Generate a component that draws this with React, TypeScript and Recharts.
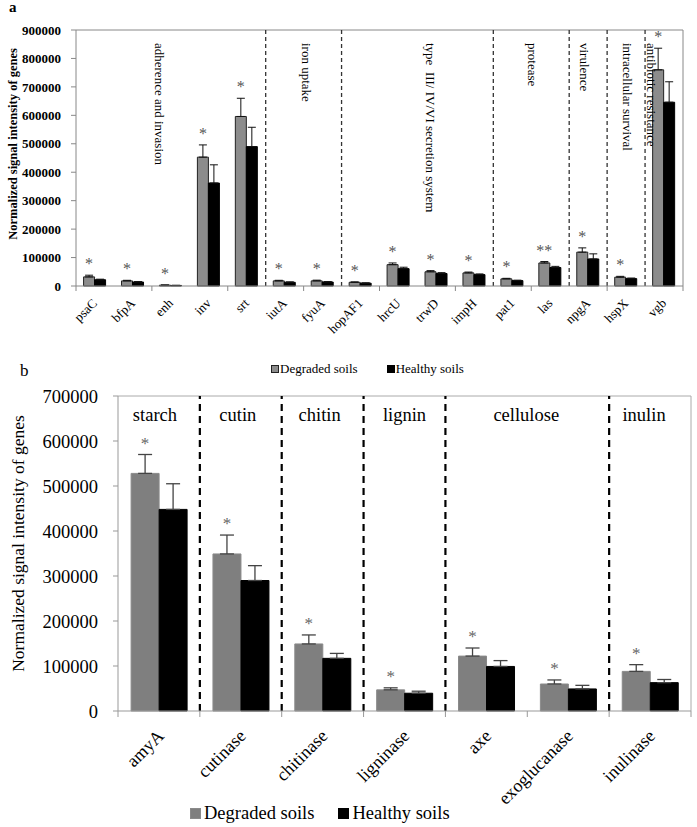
import React from 'react';
import { BarChart, Bar, XAxis, YAxis, ErrorBar, ReferenceLine, LabelList } from 'recharts';

const FONT = '"Liberation Serif", "Times New Roman", Times, serif';

// ---------- Panel a ----------
const genesA = ['psaC', 'bfpA', 'enh', 'inv', 'srt', 'iutA', 'fyuA', 'hopAF1', 'hrcU', 'trwD', 'impH', 'pat1', 'las', 'npgA', 'hspX', 'vgb'];
const degradedA = [32000, 18000, 3000, 453000, 596000, 18000, 18000, 13000, 75000, 50000, 46000, 25000, 81000, 119000, 31000, 760000];
const degradedAErr = [6000, 2000, 500, 43000, 64000, 2000, 2500, 1500, 6000, 4000, 3000, 2000, 5000, 15000, 3000, 76000];
const healthyA = [22000, 14000, 2000, 362000, 490000, 13000, 14000, 10000, 61000, 44000, 40000, 19000, 65000, 95000, 26000, 646000];
const healthyAErr = [2000, 1500, 300, 64000, 68000, 1500, 1500, 1000, 5000, 3000, 2500, 1500, 4000, 18000, 2000, 72000];
const starsA = ['*', '*', '*', '*', '*', '*', '*', '*', '*', '*', '*', '*', '**', '*', '*', '*'];
const yTicksA = [0, 100000, 200000, 300000, 400000, 500000, 600000, 700000, 800000, 900000];
// dashed dividers: placed at the start of these categories
const dividersA = ['iutA', 'hopAF1', 'pat1', 'npgA', 'hspX', 'vgb'];
const groupsA = ['adherence and invasion', 'iron uptake', 'type  III/ IV/VI secretion system', 'protease', 'virulence', 'intracellular survival', 'antibiotic resistance'];
// anchor category, band position, small nudge
const groupAnchorA = [['bfpA', 'end', 8], ['iutA', 'end', 3], ['hrcU', 'end', 13], ['las', 'start', 1], ['npgA', 'middle', -4], ['hspX', 'middle', 1], ['vgb', 'start', 6]];

// ---------- Panel b ----------
const genesB = ['amyA', 'cutinase', 'chitinase', 'ligninase', 'axe', 'exoglucanase', 'inulinase'];
const degradedB = [528000, 349000, 149000, 47000, 122000, 60000, 88000];
const degradedBErr = [42000, 42000, 20000, 4500, 18000, 9000, 15000];
const healthyB = [448000, 290000, 117000, 39500, 99000, 49000, 63000];
const healthyBErr = [57000, 33000, 11000, 4500, 13000, 8000, 7000];
const starsB = ['*', '*', '*', '*', '*', '*', '*'];
const yTicksB = [0, 100000, 200000, 300000, 400000, 500000, 600000, 700000];
const dividersB = ['cutinase', 'chitinase', 'ligninase', 'axe', 'inulinase'];
const groupsB = ['starch', 'cutin', 'chitin', 'lignin', 'cellulose', 'inulin'];
const groupAnchorB = [['amyA', 'middle', -4], ['cutinase', 'middle', -3], ['chitinase', 'middle', -3], ['ligninase', 'middle', 0], ['exoglucanase', 'start', -1], ['inulinase', 'middle', -6]];

const seriesNames = ['Degraded soils', 'Healthy soils'];

const build = (genes, deg, degErr, hea, heaErr, stars) =>
  genes.map((gene, i) => ({
    gene,
    degraded: deg[i],
    degradedErr: [0, degErr[i]],
    healthy: hea[i],
    healthyErr: [0, heaErr[i]],
    star: stars[i],
    errAbove: degErr[i],
  }));

const dataA = build(genesA, degradedA, degradedAErr, healthyA, healthyAErr, starsA);
const dataB = build(genesB, degradedB, degradedBErr, healthyB, healthyBErr, starsB);

const starContent = (rows, fs, color, gap) => (props) => {
  const { x, y, width, height, index } = props;
  const row = rows[index];
  if (!row) return null;
  const pxPer = row.degraded ? Number(height) / row.degraded : 0;
  const top = Number(y) - row.errAbove * pxPer;
  return (
    <text x={Number(x) + Number(width) / 2} y={top - gap} textAnchor="middle" fontFamily={FONT} fontSize={fs} fill={color}>
      {row.star}
    </text>
  );
};

const rotTick = (fs, dx, dy, tickLen, every, color) => (props) => {
  const { x, y, payload, index, visibleTicksCount, width } = props;
  let half = 0;
  if (Number.isFinite(width) && Number.isFinite(visibleTicksCount) && visibleTicksCount > 0) half = width / visibleTicksCount / 2;
  else if (payload && Number.isFinite(payload.offset)) half = payload.offset;
  const tx = x + dx;
  const ty = y + dy;
  const marks = [];
  if (index % every === 0) marks.push(x - half);
  if (index === visibleTicksCount - 1 && (index + 1) % every === 0) marks.push(x + half);
  return (
    <g>
      {marks.map((m, k) => (
        <line key={k} x1={m} x2={m} y1={y} y2={y + tickLen} stroke={color} strokeWidth={1} />
      ))}
      <text x={tx} y={ty} transform={`rotate(-45 ${tx} ${ty})`} textAnchor="end" fontFamily={FONT} fontSize={fs} fill="#000">
        {payload.value}
      </text>
    </g>
  );
};

const vertLabel = (text, nudge) => (props) => {
  const vb = props.viewBox;
  const x = vb.x + nudge;
  const y = vb.y + 13;
  return (
    <text x={x} y={y} transform={`rotate(90 ${x} ${y})`} textAnchor="start" dominantBaseline="central" fontFamily={FONT} fontSize={13} fill="#000" style={{ whiteSpace: 'pre' }}>
      {text}
    </text>
  );
};

const horizLabel = (text, nudge) => (props) => {
  const vb = props.viewBox;
  return (
    <text x={vb.x + nudge} y={vb.y + 25} textAnchor="middle" fontFamily={FONT} fontSize={18.5} fill="#000">
      {text}
    </text>
  );
};

const yLabel = (text, fs, weight, cx, shift) => (props) => {
  const vb = props.viewBox;
  const cy = vb.y + vb.height / 2 + shift;
  return (
    <text x={cx} y={cy} transform={`rotate(-90 ${cx} ${cy})`} textAnchor="middle" dominantBaseline="central" fontFamily={FONT} fontSize={fs} fontWeight={weight} fill="#000">
      {text}
    </text>
  );
};

const LegendRow = ({ top, left, fs, box, gap, gapBetween, degColor, degStroke }) => (
  <div style={{ position: 'absolute', top, left, display: 'flex', alignItems: 'center', fontFamily: FONT, fontSize: fs, color: '#000', whiteSpace: 'nowrap', lineHeight: 1 }}>
    <span style={{ display: 'inline-block', width: box, height: box, background: degColor, border: `1px solid ${degStroke}`, boxSizing: 'border-box', marginRight: gap }} />
    <span>{seriesNames[0]}</span>
    <span style={{ display: 'inline-block', width: box, height: box, background: '#000', marginLeft: gapBetween, marginRight: gap }} />
    <span>{seriesNames[1]}</span>
  </div>
);

export default function App() {
  return (
    <div style={{ position: 'absolute', left: 0, top: 0, width: 697, height: 827, background: '#fff', overflow: 'hidden' }}>
      <div style={{ position: 'absolute', left: 9, top: -1, fontFamily: FONT, fontSize: 15, fontWeight: 'bold' }}>a</div>
      <div style={{ position: 'absolute', left: 20, top: 361, fontFamily: FONT, fontSize: 17 }}>b</div>

      <div style={{ position: 'absolute', left: 0, top: 0 }}>
        <BarChart width={697} height={340} data={dataA} margin={{ top: 30, right: 14, left: 10, bottom: 0 }} barCategoryGap="20%" barGap={0}>
          <XAxis dataKey="gene" interval={0} height={54} tickLine={false} tickSize={0} tickMargin={0} axisLine={{ stroke: '#888' }} tick={rotTick(13, 3, 18, 5, 2, '#888')} />
          <YAxis width={66} domain={[0, 900000]} ticks={yTicksA} interval={0} tickSize={5} tickMargin={10} axisLine={{ stroke: '#888' }} tickLine={{ stroke: '#888' }}
            tick={{ fontFamily: FONT, fontSize: 13, fontWeight: 'bold', fill: '#000' }}
            label={yLabel('Normalized signal intensity of genes', 12.5, 'bold', 13, -14)} />
          <ReferenceLine y={900000} stroke="#888" strokeWidth={1} />
          <ReferenceLine x="vgb" position="end" stroke="#888" strokeWidth={1} />
          {dividersA.map((d) => (
            <ReferenceLine key={'da' + d} x={d} position="start" stroke="#333" strokeWidth={1.3} strokeDasharray="4 3" />
          ))}
          {groupsA.map((g, i) => (
            <ReferenceLine key={'ga' + g} x={groupAnchorA[i][0]} position={groupAnchorA[i][1]} stroke="none" label={vertLabel(g, groupAnchorA[i][2])} />
          ))}
          <Bar dataKey="degraded" name={seriesNames[0]} fill="#8c8c8c" stroke="#222" strokeWidth={1} isAnimationActive={false}>
            <ErrorBar dataKey="degradedErr" direction="y" width={4} stroke="#111" strokeWidth={1} />
            <LabelList dataKey="star" content={starContent(dataA, 16, '#555', 6)} />
          </Bar>
          <Bar dataKey="healthy" name={seriesNames[1]} fill="#000" stroke="#000" strokeWidth={1} isAnimationActive={false}>
            <ErrorBar dataKey="healthyErr" direction="y" width={4} stroke="#111" strokeWidth={1} />
          </Bar>
        </BarChart>
      </div>

      <LegendRow top={362} left={271} fs={13} box={8} gap={1} gapBetween={29} degColor="#8c8c8c" degStroke="#222" />

      <div style={{ position: 'absolute', left: 0, top: 380 }}>
        <BarChart width={697} height={447} data={dataB} margin={{ top: 16, right: 6, left: 0, bottom: 16 }} barCategoryGap="16%" barGap={0}>
          <XAxis dataKey="gene" interval={0} height={100} tickLine={false} tickSize={0} tickMargin={0} axisLine={{ stroke: '#999' }} tick={rotTick(18, 6, 26, 6, 1, '#999')} />
          <YAxis width={118} domain={[0, 700000]} ticks={yTicksB} interval={0} tickSize={5} tickMargin={15} axisLine={{ stroke: '#999' }} tickLine={{ stroke: '#999' }}
            tick={{ fontFamily: FONT, fontSize: 18.5, fill: '#000' }}
            label={yLabel('Normalized signal intensity of genes', 17.5, 'normal', 18, -10)} />
          <ReferenceLine y={700000} stroke="#aaa" strokeWidth={1} />
          <ReferenceLine x="inulinase" position="end" stroke="#aaa" strokeWidth={1} />
          {dividersB.map((d) => (
            <ReferenceLine key={'db' + d} x={d} position="start" stroke="#000" strokeWidth={2.2} strokeDasharray="7 5" />
          ))}
          {groupsB.map((g, i) => (
            <ReferenceLine key={'gb' + g} x={groupAnchorB[i][0]} position={groupAnchorB[i][1]} stroke="none" label={horizLabel(g, groupAnchorB[i][2])} />
          ))}
          <Bar dataKey="degraded" name={seriesNames[0]} fill="#7f7f7f" stroke="#8a8a8a" strokeWidth={1} isAnimationActive={false}>
            <ErrorBar dataKey="degradedErr" direction="y" width={7} stroke="#444" strokeWidth={1.3} />
            <LabelList dataKey="star" content={starContent(dataB, 17, '#666', 6)} />
          </Bar>
          <Bar dataKey="healthy" name={seriesNames[1]} fill="#000" stroke="#000" strokeWidth={1} isAnimationActive={false}>
            <ErrorBar dataKey="healthyErr" direction="y" width={7} stroke="#444" strokeWidth={1.3} />
          </Bar>
        </BarChart>
      </div>

      <LegendRow top={804} left={190} fs={18.5} box={11} gap={3} gapBetween={24} degColor="#7f7f7f" degStroke="#8a8a8a" />
    </div>
  );
}
